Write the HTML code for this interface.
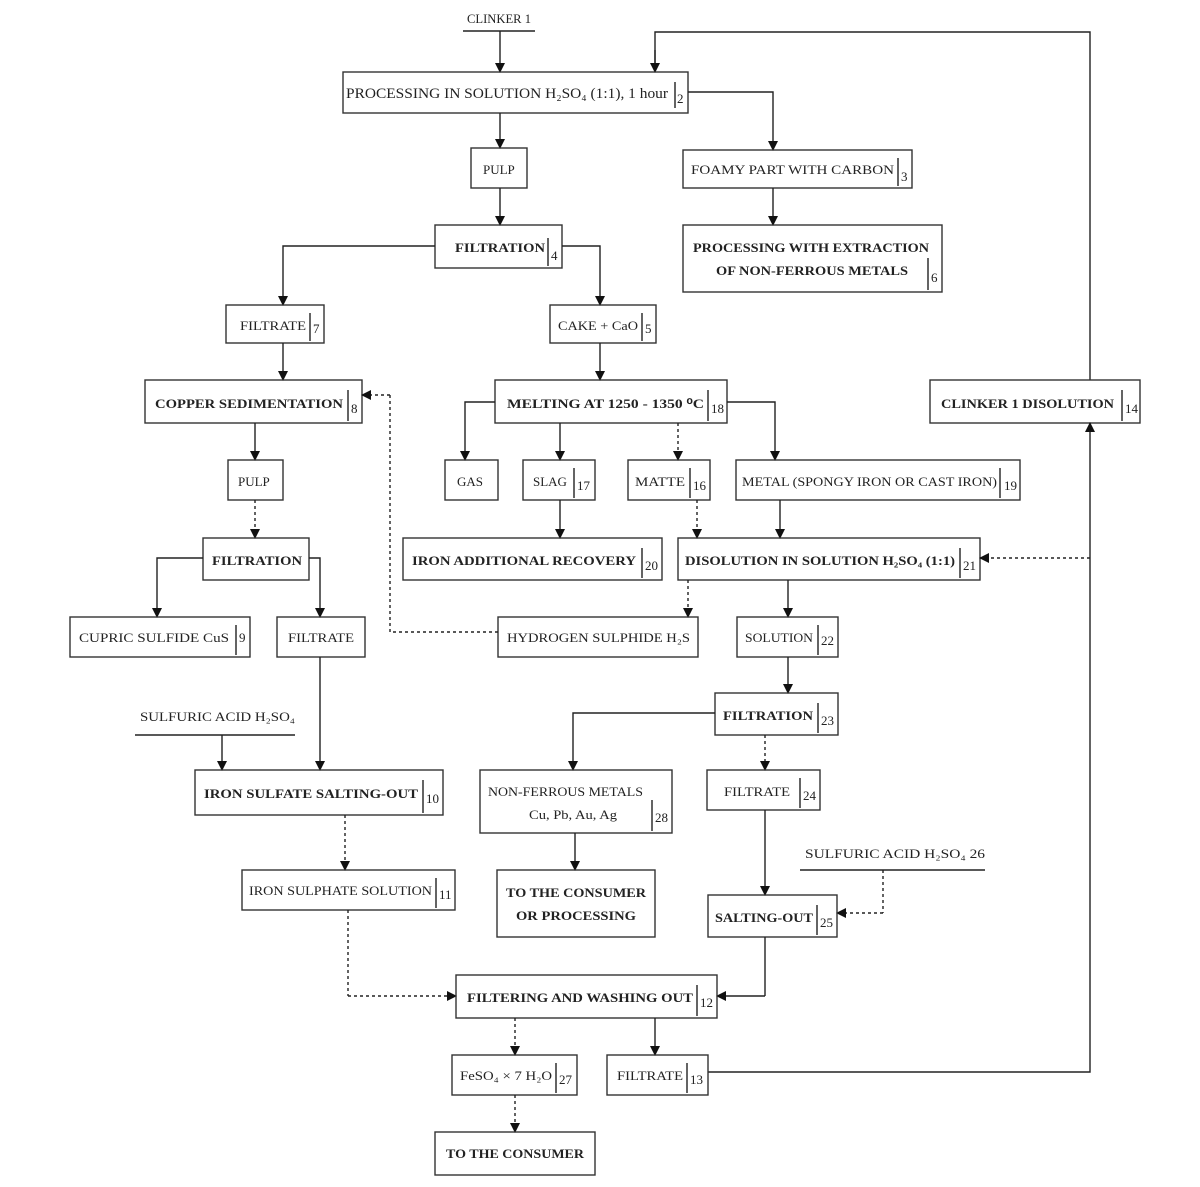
<!DOCTYPE html>
<html><head><meta charset="utf-8"><style>
html,body{margin:0;padding:0;background:#fff}
svg{display:block}
text{font-family:"Liberation Serif",serif;font-size:15px;fill:#222}
.b{font-weight:bold}
.n{font-size:13px}
rect{fill:none;stroke:#333;stroke-width:1.4}
line,polyline{stroke:#222;stroke-width:1.4;fill:none}
.d{stroke-dasharray:3,3}
</style></head><body>
<svg width="1200" height="1187" viewBox="0 0 1200 1187" xmlns="http://www.w3.org/2000/svg">
<defs><marker id="a" markerWidth="10" markerHeight="10" refX="9" refY="5" orient="auto" markerUnits="userSpaceOnUse"><path d="M0,0 L10,5 L0,10 z" fill="#111"/></marker></defs>

<!-- top -->
<text x="467" y="23" textLength="64" lengthAdjust="spacingAndGlyphs" class="n">CLINKER 1</text>
<line x1="463" y1="31" x2="535" y2="31"/>
<line x1="500" y1="31" x2="500" y2="72" marker-end="url(#a)"/>
<polyline points="655,72 655,32 1090,32 1090,380"/>
<line x1="655" y1="50" x2="655" y2="72" marker-end="url(#a)"/>

<rect x="343" y="72" width="345" height="41"/>
<line x1="675" y1="82" x2="675" y2="108"/>
<text x="346" y="98" textLength="322" lengthAdjust="spacingAndGlyphs">PROCESSING IN SOLUTION H₂SO₄ (1:1), 1 hour</text>
<text x="677" y="103" class="n">2</text>
<polyline points="688,92 773,92 773,150" marker-end="url(#a)"/>

<line x1="500" y1="113" x2="500" y2="148" marker-end="url(#a)"/>
<rect x="471" y="148" width="56" height="40"/>
<text x="483" y="174" class="n">PULP</text>

<rect x="683" y="150" width="229" height="38"/>
<line x1="898" y1="158" x2="898" y2="186"/>
<text x="691" y="174" textLength="203" lengthAdjust="spacingAndGlyphs" class="n">FOAMY PART WITH CARBON</text>
<text x="901" y="181" class="n">3</text>
<line x1="773" y1="188" x2="773" y2="225" marker-end="url(#a)"/>

<line x1="500" y1="188" x2="500" y2="225" marker-end="url(#a)"/>
<rect x="435" y="225" width="127" height="43"/>
<line x1="548" y1="238" x2="548" y2="266"/>
<text x="455" y="252" class="b n" textLength="90" lengthAdjust="spacingAndGlyphs">FILTRATION</text>
<text x="551" y="260" class="n">4</text>

<rect x="683" y="225" width="259" height="67"/>
<line x1="928" y1="258" x2="928" y2="290"/>
<text x="693" y="252" class="b n" textLength="236" lengthAdjust="spacingAndGlyphs">PROCESSING WITH EXTRACTION</text>
<text x="716" y="275" class="b n" textLength="192" lengthAdjust="spacingAndGlyphs">OF NON-FERROUS METALS</text>
<text x="931" y="282" class="n">6</text>

<polyline points="435,246 283,246 283,305" marker-end="url(#a)"/>
<polyline points="562,246 600,246 600,305" marker-end="url(#a)"/>

<rect x="226" y="305" width="98" height="38"/>
<line x1="310" y1="313" x2="310" y2="341"/>
<text x="240" y="330" class="n" textLength="66" lengthAdjust="spacingAndGlyphs">FILTRATE</text>
<text x="313" y="333" class="n">7</text>

<rect x="550" y="305" width="106" height="38"/>
<line x1="642" y1="313" x2="642" y2="341"/>
<text x="558" y="330" class="n" textLength="80" lengthAdjust="spacingAndGlyphs">CAKE + CaO</text>
<text x="645" y="333" class="n">5</text>

<line x1="283" y1="343" x2="283" y2="380" marker-end="url(#a)"/>
<line x1="600" y1="343" x2="600" y2="380" marker-end="url(#a)"/>

<rect x="145" y="380" width="217" height="43"/>
<line x1="348" y1="390" x2="348" y2="421"/>
<text x="155" y="408" class="b n" textLength="188" lengthAdjust="spacingAndGlyphs">COPPER SEDIMENTATION</text>
<text x="351" y="413" class="n">8</text>

<rect x="495" y="380" width="232" height="43"/>
<line x1="708" y1="390" x2="708" y2="421"/>
<text x="507" y="408" class="b n" textLength="197" lengthAdjust="spacingAndGlyphs">MELTING AT 1250 - 1350 ⁰C</text>
<text x="711" y="413" class="n">18</text>

<rect x="930" y="380" width="210" height="43"/>
<line x1="1122" y1="390" x2="1122" y2="421"/>
<text x="941" y="408" class="b n" textLength="173" lengthAdjust="spacingAndGlyphs">CLINKER 1 DISOLUTION</text>
<text x="1125" y="413" class="n">14</text>

<polyline points="495,402 465,402 465,460" marker-end="url(#a)"/>
<line x1="560" y1="423" x2="560" y2="460" marker-end="url(#a)"/>
<line x1="678" y1="423" x2="678" y2="460" class="d" marker-end="url(#a)"/>
<polyline points="727,402 775,402 775,460" marker-end="url(#a)"/>

<rect x="445" y="460" width="53" height="40"/>
<text x="457" y="486" class="n">GAS</text>
<rect x="523" y="460" width="72" height="40"/>
<line x1="574" y1="468" x2="574" y2="498"/>
<text x="533" y="486" class="n">SLAG</text><text x="577" y="490" class="n">17</text>
<rect x="628" y="460" width="82" height="40"/>
<line x1="690" y1="468" x2="690" y2="498"/>
<text x="635" y="486" class="n" textLength="50" lengthAdjust="spacingAndGlyphs">MATTE</text><text x="693" y="490" class="n">16</text>
<rect x="736" y="460" width="284" height="40"/>
<line x1="1000" y1="468" x2="1000" y2="498"/>
<text x="742" y="486" class="n" textLength="255" lengthAdjust="spacingAndGlyphs">METAL (SPONGY IRON OR CAST IRON)</text><text x="1004" y="490" class="n">19</text>

<line x1="255" y1="423" x2="255" y2="460" marker-end="url(#a)"/>
<rect x="228" y="460" width="55" height="40"/>
<text x="238" y="486" class="n">PULP</text>
<line x1="255" y1="500" x2="255" y2="538" class="d" marker-end="url(#a)"/>

<rect x="203" y="538" width="106" height="42"/>
<text x="212" y="565" class="b n" textLength="90" lengthAdjust="spacingAndGlyphs">FILTRATION</text>
<polyline points="203,558 157,558 157,617" marker-end="url(#a)"/>
<polyline points="309,558 320,558 320,617" marker-end="url(#a)"/>

<line x1="560" y1="500" x2="560" y2="538" marker-end="url(#a)"/>
<line x1="697" y1="500" x2="697" y2="538" class="d" marker-end="url(#a)"/>
<line x1="780" y1="500" x2="780" y2="538" marker-end="url(#a)"/>

<rect x="403" y="538" width="259" height="42"/>
<line x1="642" y1="548" x2="642" y2="578"/>
<text x="412" y="565" class="b n" textLength="224" lengthAdjust="spacingAndGlyphs">IRON ADDITIONAL RECOVERY</text>
<text x="645" y="570" class="n">20</text>

<rect x="678" y="538" width="302" height="42"/>
<line x1="960" y1="548" x2="960" y2="578"/>
<text x="685" y="565" class="b n" textLength="270" lengthAdjust="spacingAndGlyphs">DISOLUTION IN SOLUTION H₂SO₄ (1:1)</text>
<text x="963" y="570" class="n">21</text>

<line x1="1090" y1="558" x2="980" y2="558" class="d" marker-end="url(#a)"/>
<line x1="1090" y1="558" x2="1090" y2="423" marker-end="url(#a)"/>
<polyline points="708,1072 1090,1072 1090,558"/>

<rect x="70" y="617" width="180" height="40"/>
<line x1="236" y1="625" x2="236" y2="655"/>
<text x="79" y="642" class="n" textLength="150" lengthAdjust="spacingAndGlyphs">CUPRIC SULFIDE CuS</text><text x="239" y="642" class="n">9</text>
<rect x="277" y="617" width="88" height="40"/>
<text x="288" y="642" class="n" textLength="66" lengthAdjust="spacingAndGlyphs">FILTRATE</text>

<line x1="688" y1="580" x2="688" y2="617" class="d" marker-end="url(#a)"/>
<line x1="788" y1="580" x2="788" y2="617" marker-end="url(#a)"/>
<rect x="498" y="617" width="200" height="40"/>
<text x="507" y="642" class="n" textLength="183" lengthAdjust="spacingAndGlyphs">HYDROGEN SULPHIDE H₂S</text>
<polyline points="498,632 390,632 390,395" class="d"/>
<line x1="390" y1="395" x2="362" y2="395" class="d" marker-end="url(#a)"/>

<rect x="737" y="617" width="101" height="40"/>
<line x1="818" y1="625" x2="818" y2="655"/>
<text x="745" y="642" class="n" textLength="68" lengthAdjust="spacingAndGlyphs">SOLUTION</text><text x="821" y="645" class="n">22</text>

<line x1="788" y1="657" x2="788" y2="693" marker-end="url(#a)"/>
<rect x="715" y="693" width="123" height="42"/>
<line x1="818" y1="703" x2="818" y2="733"/>
<text x="723" y="720" class="b n" textLength="90" lengthAdjust="spacingAndGlyphs">FILTRATION</text><text x="821" y="725" class="n">23</text>
<polyline points="715,713 573,713 573,770" marker-end="url(#a)"/>
<line x1="765" y1="735" x2="765" y2="770" class="d" marker-end="url(#a)"/>

<text x="140" y="721" class="n" textLength="155" lengthAdjust="spacingAndGlyphs">SULFURIC ACID H₂SO₄</text>
<line x1="135" y1="735" x2="295" y2="735"/>
<line x1="222" y1="735" x2="222" y2="770" marker-end="url(#a)"/>
<line x1="320" y1="657" x2="320" y2="770" marker-end="url(#a)"/>

<rect x="195" y="770" width="248" height="45"/>
<line x1="423" y1="780" x2="423" y2="813"/>
<text x="204" y="798" class="b n" textLength="214" lengthAdjust="spacingAndGlyphs">IRON SULFATE SALTING-OUT</text><text x="426" y="803" class="n">10</text>

<rect x="480" y="770" width="192" height="63"/>
<line x1="652" y1="800" x2="652" y2="831"/>
<text x="488" y="796" class="n" textLength="155" lengthAdjust="spacingAndGlyphs">NON-FERROUS METALS</text>
<text x="529" y="819" class="n" textLength="88" lengthAdjust="spacingAndGlyphs">Cu, Pb, Au, Ag</text>
<text x="655" y="822" class="n">28</text>

<rect x="707" y="770" width="113" height="40"/>
<line x1="800" y1="778" x2="800" y2="808"/>
<text x="724" y="796" class="n" textLength="66" lengthAdjust="spacingAndGlyphs">FILTRATE</text><text x="803" y="800" class="n">24</text>

<line x1="345" y1="815" x2="345" y2="870" class="d" marker-end="url(#a)"/>
<line x1="575" y1="833" x2="575" y2="870" marker-end="url(#a)"/>
<line x1="765" y1="810" x2="765" y2="895" marker-end="url(#a)"/>

<text x="805" y="858" class="n" textLength="180" lengthAdjust="spacingAndGlyphs">SULFURIC ACID H₂SO₄ 26</text>
<line x1="800" y1="870" x2="985" y2="870"/>
<polyline points="883,870 883,913" class="d"/>
<line x1="883" y1="913" x2="837" y2="913" class="d" marker-end="url(#a)"/>

<rect x="242" y="870" width="213" height="40"/>
<line x1="436" y1="878" x2="436" y2="908"/>
<text x="249" y="895" class="n" textLength="183" lengthAdjust="spacingAndGlyphs">IRON SULPHATE SOLUTION</text><text x="439" y="899" class="n">11</text>

<rect x="497" y="870" width="158" height="67"/>
<text x="506" y="897" class="b n" textLength="140" lengthAdjust="spacingAndGlyphs">TO THE CONSUMER</text>
<text x="516" y="920" class="b n" textLength="120" lengthAdjust="spacingAndGlyphs">OR PROCESSING</text>

<rect x="708" y="895" width="129" height="42"/>
<line x1="817" y1="905" x2="817" y2="935"/>
<text x="715" y="922" class="b n" textLength="98" lengthAdjust="spacingAndGlyphs">SALTING-OUT</text><text x="820" y="927" class="n">25</text>

<polyline points="348,910 348,996" class="d"/>
<line x1="348" y1="996" x2="456" y2="996" class="d" marker-end="url(#a)"/>
<polyline points="765,937 765,996"/>
<line x1="765" y1="996" x2="717" y2="996" marker-end="url(#a)"/>

<rect x="456" y="975" width="261" height="43"/>
<line x1="697" y1="985" x2="697" y2="1016"/>
<text x="467" y="1002" class="b n" textLength="226" lengthAdjust="spacingAndGlyphs">FILTERING AND WASHING OUT</text><text x="700" y="1007" class="n">12</text>

<line x1="515" y1="1018" x2="515" y2="1055" class="d" marker-end="url(#a)"/>
<line x1="655" y1="1018" x2="655" y2="1055" marker-end="url(#a)"/>

<rect x="452" y="1055" width="125" height="40"/>
<line x1="556" y1="1063" x2="556" y2="1093"/>
<text x="460" y="1080" class="n" textLength="92" lengthAdjust="spacingAndGlyphs">FeSO₄ × 7 H₂O</text><text x="559" y="1084" class="n">27</text>

<rect x="607" y="1055" width="101" height="40"/>
<line x1="687" y1="1063" x2="687" y2="1093"/>
<text x="617" y="1080" class="n" textLength="66" lengthAdjust="spacingAndGlyphs">FILTRATE</text><text x="690" y="1084" class="n">13</text>

<line x1="515" y1="1095" x2="515" y2="1132" class="d" marker-end="url(#a)"/>
<rect x="435" y="1132" width="160" height="43"/>
<text x="446" y="1158" class="b n" textLength="138" lengthAdjust="spacingAndGlyphs">TO THE CONSUMER</text>
</svg>
</body></html>
